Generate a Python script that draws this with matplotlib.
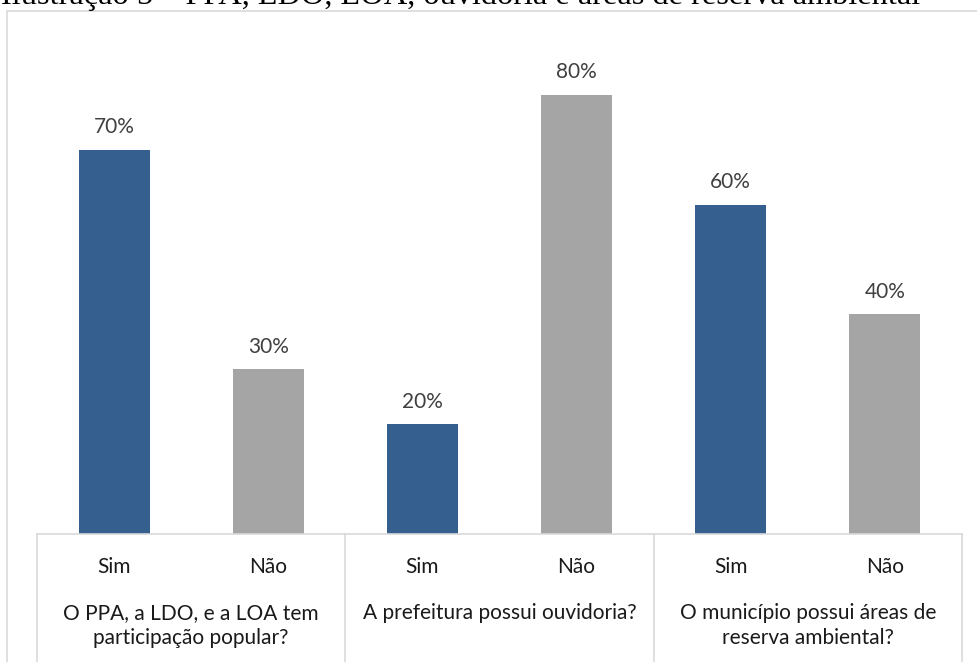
import matplotlib.pyplot as plt
from matplotlib.patches import Rectangle
import matplotlib.transforms as mtransforms

# answers under each question
answers = ["Sim", "Não", "Sim", "Não", "Sim", "Não"]
values = [0.70, 0.30, 0.20, 0.80, 0.60, 0.40]
questions = ["O PPA, a LDO, e a LOA tem\nparticipação popular?",
             "A prefeitura possui ouvidoria?",
             "O município possui áreas de\nreserva ambiental?"]
title = "Ilustração 5 – PPA, LDO, LOA, ouvidoria e áreas de reserva ambiental"

blue = "#355F8F"
gray = "#A5A5A5"
line_color = "#D9D9D9"

plt.rcParams['font.family'] = ['Lato', 'DejaVu Sans']

W, H = 977, 662
fig = plt.figure(figsize=(W / 100, H / 100), dpi=100)

# outer chart border (cut at right and bottom like the source)
fig.patches.append(Rectangle((7 / W, -0.05), 1.2, 1 - 11 / H + 0.05,
                             transform=fig.transFigure, fill=False,
                             edgecolor=line_color, linewidth=1.2))

fig.text(1 / W, 1 - 4 / H, title, family="Liberation Serif", fontsize=23.3,
         va="baseline", ha="left", color="black")

ax = fig.add_axes([37 / W, 1 - 534 / H, (962 - 37) / W, (534 - 40) / H])

x = list(range(len(values)))
colors = [blue if a == "Sim" else gray for a in answers]
bars = ax.bar(x, values, width=0.46, color=colors)

for xi, v in zip(x, values):
    ax.annotate(f"{v:.0%}", (xi, v), xytext=(0, 12), textcoords="offset points",
                ha="center", va="baseline", fontsize=15, color="#404040")

ax.set_xlim(-0.5, len(values) - 0.5)
ax.set_ylim(0, 0.9)
ax.set_yticks([])
ax.set_xticks([])
for s in ["top", "right", "left"]:
    ax.spines[s].set_visible(False)
ax.spines["bottom"].set_color(line_color)
ax.spines["bottom"].set_linewidth(1.2)

# two-level category axis
trans = mtransforms.blended_transform_factory(ax.transData, fig.transFigure)
bottom_y = 1 - 534 / H
for b in [-0.5, 1.5, 3.5, 5.5]:
    ax.plot([b, b], [bottom_y, -0.05], transform=trans, color=line_color,
            linewidth=1.2, clip_on=False)

for xi, a in zip(x, answers):
    fig.text(0, 0, a, transform=trans, fontsize=15, color="#1a1a1a",
             ha="center", va="center").set_position((xi, 1 - 567 / H))

for i, q in enumerate(questions):
    fig.text(0, 0, q, transform=trans, fontsize=15, color="#1a1a1a",
             ha="center", va="top", linespacing=1.3).set_position((2 * i + 0.5, 1 - 603 / H))

plt.savefig("out.png", dpi=100)
